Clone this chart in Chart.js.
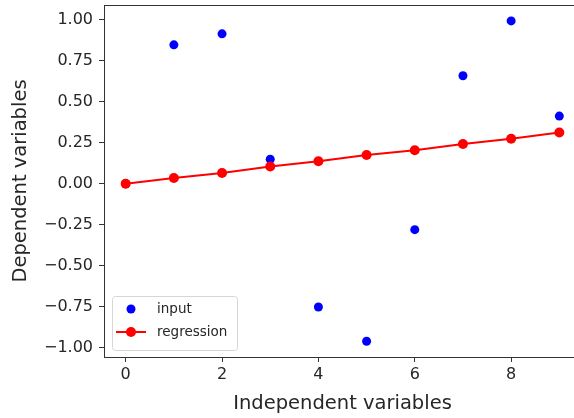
<!DOCTYPE html>
<html>
<head>
<meta charset="utf-8">
<script src="https://cdn.jsdelivr.net/npm/chart.js@4"></script>
<style>
  html, body { margin: 0; padding: 0; background: #fff; overflow: hidden; }
  #wrap { width: 574px; height: 418px; overflow: hidden; position: relative; }
  #box { width: 600px; height: 418px; }
</style>
</head>
<body>
<div id="wrap"><div id="box"><canvas id="regChart"></canvas></div></div>
<script>
// values
const xValues = [0, 1, 2, 3, 4, 5, 6, 7, 8, 9];
const inputY = [0.0, 0.848, 0.915, 0.15, -0.752, -0.961, -0.28, 0.659, 0.994, 0.413];
const regressionY = [0.0, 0.035, 0.066, 0.105, 0.137, 0.176, 0.205, 0.243, 0.275, 0.313];
const xTicks = [0, 2, 4, 6, 8];
const yTicks = [-1.0, -0.75, -0.5, -0.25, 0.0, 0.25, 0.5, 0.75, 1.0];

const FONT = 'DejaVu Sans';
const INK = '#262626';

// top spine + legend inside the axes (matplotlib look)
const axesExtras = {
    id: 'axesExtras',
    afterDraw(chart) {
        const { ctx, chartArea: a } = chart;
        ctx.save();
        ctx.strokeStyle = '#333';
        ctx.lineWidth = 1;
        ctx.beginPath();
        ctx.moveTo(a.left, a.top + 0.5);
        ctx.lineTo(a.right, a.top + 0.5);
        ctx.stroke();

        // legend box
        const bx = a.left + 8, by = a.bottom - 61, bw = 125, bh = 54;
        ctx.fillStyle = 'rgba(255,255,255,0.8)';
        ctx.strokeStyle = '#d6d6d6';
        ctx.beginPath();
        ctx.roundRect(bx + 0.5, by + 0.5, bw, bh, 3);
        ctx.fill();
        ctx.stroke();

        ctx.font = '13.5px "' + FONT + '"';
        ctx.textBaseline = 'middle';
        chart.data.datasets.forEach((ds, i) => {
            const cy = by + 13 + i * 23;
            const cx = bx + 19;
            if (ds.showLine) {
                ctx.strokeStyle = ds.borderColor;
                ctx.lineWidth = 2;
                ctx.beginPath();
                ctx.moveTo(cx - 15, cy);
                ctx.lineTo(cx + 15, cy);
                ctx.stroke();
            }
            ctx.fillStyle = ds.pointBackgroundColor;
            ctx.beginPath();
            ctx.arc(cx, cy, ds.pointRadius, 0, Math.PI * 2);
            ctx.fill();
            ctx.fillStyle = INK;
            ctx.fillText(ds.label, bx + 45, cy);
        });
        ctx.restore();
    }
};

function initRegChart() {
    const el = document.getElementById('regChart');
    new Chart(el.getContext('2d'), {
        type: 'scatter',
        data: {
            datasets: [
                {
                    label: 'input',
                    data: xValues.map((x, i) => ({ x: x, y: inputY[i] })),
                    pointBackgroundColor: '#0000ff',
                    pointBorderWidth: 0,
                    pointRadius: 4.5,
                    showLine: false,
                    order: 2
                },
                {
                    label: 'regression',
                    data: xValues.map((x, i) => ({ x: x, y: regressionY[i] })),
                    borderColor: '#ff0000',
                    borderWidth: 2,
                    pointBackgroundColor: '#ff0000',
                    pointBorderWidth: 0,
                    pointRadius: 5,
                    showLine: true,
                    order: 1
                }
            ]
        },
        options: {
            responsive: true,
            maintainAspectRatio: false,
            animation: false,
            layout: { padding: { left: 0, top: 5, right: 19, bottom: 0 } },
            plugins: { legend: { display: false }, tooltip: { enabled: false } },
            scales: {
                x: {
                    type: 'linear',
                    min: -0.45,
                    max: 9.45,
                    afterBuildTicks: (s) => { s.ticks = xTicks.map(v => ({ value: v })); },
                    afterFit: (s) => { s.height = 61; s.paddingLeft = 0; s.paddingRight = 0; },
                    grid: { drawOnChartArea: false, tickLength: 5, color: '#333' },
                    border: { display: true, color: '#333', width: 1 },
                    ticks: {
                        padding: 3,
                        color: INK,
                        font: { family: FONT, size: 16 },
                        maxRotation: 0,
                        callback: (v) => String(v)
                    },
                    title: {
                        display: true,
                        text: 'Independent variables',
                        color: INK,
                        font: { family: FONT, size: 19.5 },
                        padding: { top: 0, bottom: 2 }
                    }
                },
                y: {
                    type: 'linear',
                    min: -1.057,
                    max: 1.091,
                    afterBuildTicks: (s) => { s.ticks = yTicks.map(v => ({ value: v })); },
                    afterFit: (s) => { s.width = 104; s.paddingTop = 0; s.paddingBottom = 0; },
                    grid: { drawOnChartArea: false, tickLength: 5, color: '#333' },
                    border: { display: true, color: '#333', width: 1 },
                    ticks: {
                        padding: 6,
                        color: INK,
                        font: { family: FONT, size: 16 },
                        callback: (v) => v.toFixed(2).replace('-', '\u2212')
                    },
                    title: {
                        display: true,
                        text: 'Dependent variables',
                        color: INK,
                        font: { family: FONT, size: 19.5 },
                        padding: { top: 9, bottom: 0 }
                    }
                }
            }
        },
        plugins: [axesExtras]
    });
}

initRegChart();
</script>
</body>
</html>
